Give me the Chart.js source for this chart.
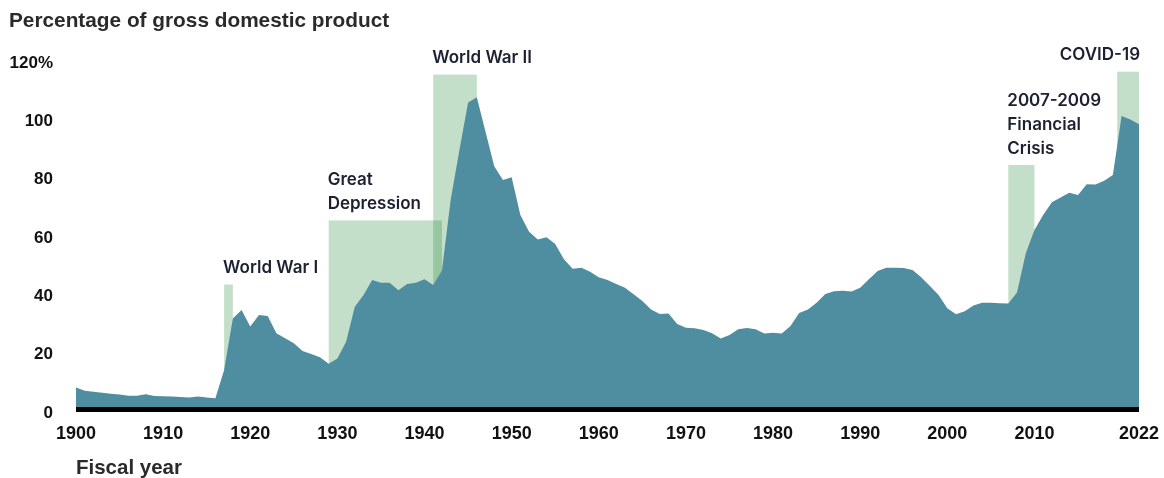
<!DOCTYPE html>
<html>
<head>
<meta charset="utf-8">
<script src="https://cdn.jsdelivr.net/npm/chart.js@4/dist/chart.umd.min.js"></script>
<style>
  html, body { margin: 0; padding: 0; background: #ffffff; }
  #wrap { width: 1164px; height: 478px; position: relative; }
</style>
</head>
<body>
<div id="wrap"><canvas id="c" width="1164" height="478"></canvas></div>
<script>
// ---------- data ----------
const years = [];
for (let y = 1900; y <= 2022; y++) years.push(y);

const debtPct = [
  7.7, 6.6, 6.3, 5.9, 5.6, 5.3, 4.9, 4.9, 5.4, 4.8,      // 1900-1909
  4.7, 4.6, 4.5, 4.3, 4.6, 4.3, 4.0, 13.7, 31.4, 34.3,   // 1910-1919
  28.6, 32.6, 32.2, 26.3, 24.6, 22.9, 20.2, 19.2, 18.1, 15.9, // 1920-1929
  17.7, 23.4, 35.4, 39.4, 44.6, 43.6, 43.6, 41.1, 43.2, 43.6, // 1930-1939
  44.8, 42.9, 47.8, 72.0, 89.1, 105.4, 107.2, 95.4, 83.6, 78.9, // 1940-1949
  79.8, 66.9, 61.1, 58.5, 59.2, 56.9, 51.7, 48.4, 48.8, 47.4, // 1950-1959
  45.5, 44.6, 43.2, 41.9, 39.7, 37.4, 34.5, 32.9, 33.1, 29.5, // 1960-1969
  28.2, 28.0, 27.4, 26.3, 24.5, 25.7, 27.7, 28.1, 27.7, 26.2, // 1970-1979
  26.5, 26.2, 28.8, 33.3, 34.5, 36.8, 39.8, 40.7, 40.9, 40.6, // 1980-1989
  41.9, 44.8, 47.7, 48.8, 48.8, 48.7, 48.0, 45.5, 42.5, 39.4, // 1990-1999
  34.9, 32.8, 33.9, 35.8, 36.8, 36.8, 36.6, 36.5, 40.3, 53.7, // 2000-2009
  61.7, 66.9, 71.2, 72.9, 74.5, 73.7, 77.4, 77.3, 78.6, 80.6, // 2010-2019
  100.8, 99.6, 98.0                                      // 2020-2022
];

const xTickValues = [1900, 1910, 1920, 1930, 1940, 1950, 1960, 1970, 1980, 1990, 2000, 2010, 2022];
const yTickValues = [0, 20, 40, 60, 80, 100, 120];

const eventNames  = [["World War I"], ["Great", "Depression"], ["World War II"], ["2007-2009", "Financial", "Crisis"], ["COVID-19"]];
const eventStart  = [1917, 1929, 1941, 2007, 2019.5];
const eventEnd    = [1918, 1942, 1946, 2010, 2022];
const eventHeight = [43, 65, 115, 84, 116];
const eventAlignRight = [false, false, false, false, true];

const titleText = "Percentage of gross domestic product";
const xTitleText = "Fiscal year";

// ---------- styling ----------
const AREA_COLOR = "rgb(79,141,160)";
const SHADE_COLOR = "rgba(14,128,40,0.25)";
const LABEL_COLOR = "#1d2030";
const AXIS_FONT = "'Liberation Sans', Arial, Helvetica, sans-serif";
const NOTE_FONT = "Inter, 'Noto Sans', sans-serif";

const points = years.map((y, i) => ({ x: y, y: debtPct[i] }));

const eventPlugin = {
  id: 'events',
  beforeDatasetsDraw(chart) {
    const { ctx, scales: { x, y } } = chart;
    ctx.save();
    ctx.fillStyle = SHADE_COLOR;
    for (let i = 0; i < eventStart.length; i++) {
      const x0 = x.getPixelForValue(eventStart[i]);
      const x1 = x.getPixelForValue(eventEnd[i]);
      const yt = y.getPixelForValue(eventHeight[i]);
      const yb = y.getPixelForValue(0);
      ctx.fillRect(x0, yt, x1 - x0, yb - yt);
    }
    ctx.restore();
  },
  afterDatasetsDraw(chart) {
    const { ctx, chartArea, scales: { y } } = chart;
    const y0 = y.getPixelForValue(0);
    ctx.save();
    ctx.fillStyle = "#000";
    ctx.fillRect(chartArea.left, y0 - 3, chartArea.right - chartArea.left, 5);
    ctx.restore();
  },
  afterDraw(chart) {
    const { ctx, scales: { x, y } } = chart;
    ctx.save();
    // annotation labels
    ctx.fillStyle = LABEL_COLOR;
    ctx.font = "600 17px " + NOTE_FONT;
    ctx.textBaseline = "alphabetic";
    const lineH = 24;
    for (let i = 0; i < eventNames.length; i++) {
      const lines = eventNames[i];
      const yt = y.getPixelForValue(eventHeight[i]);
      const lastBase = yt - 11.5;
      let xPos;
      if (eventAlignRight[i]) {
        ctx.textAlign = "right";
        xPos = x.getPixelForValue(eventEnd[i]) + 1;
      } else {
        ctx.textAlign = "left";
        xPos = x.getPixelForValue(eventStart[i]) - 1;
      }
      for (let k = 0; k < lines.length; k++) {
        const base = lastBase - (lines.length - 1 - k) * lineH;
        ctx.fillText(lines[k], xPos, base);
      }
    }
    // titles
    ctx.textAlign = "left";
    ctx.fillStyle = "#2a2a2a";
    ctx.font = "bold 20.8px " + AXIS_FONT;
    ctx.fillText(titleText, 9, 27);
    ctx.font = "bold 20.5px " + AXIS_FONT;
    ctx.fillText(xTitleText, 76, 474);
    ctx.restore();
  }
};

new Chart(document.getElementById('c'), {
  type: 'line',
  data: {
    datasets: [{
      data: points,
      fill: 'origin',
      backgroundColor: AREA_COLOR,
      borderColor: AREA_COLOR,
      borderWidth: 0,
      pointRadius: 0,
      tension: 0
    }]
  },
  options: {
    responsive: false,
    devicePixelRatio: 1,
    animation: false,
    events: [],
    layout: { padding: { top: 60, right: 25, left: 0, bottom: 0 } },
    plugins: { legend: { display: false }, tooltip: { enabled: false } },
    scales: {
      x: {
        type: 'linear',
        min: 1900,
        max: 2022,
        grid: { display: false, drawTicks: false },
        border: { display: false },
        afterBuildTicks(scale) { scale.ticks = xTickValues.map(v => ({ value: v })); },
        afterFit(scale) { scale.height = 68; scale.paddingLeft = 0; scale.paddingRight = 0; },
        ticks: {
          autoSkip: false,
          maxRotation: 0,
          padding: 13,
          color: "#111",
          font: { family: AXIS_FONT, size: 18, weight: 'bold' },
          callback: v => String(v)
        }
      },
      y: {
        min: 0,
        max: 120,
        grid: { display: false, drawTicks: false },
        border: { display: false },
        afterBuildTicks(scale) { scale.ticks = yTickValues.map(v => ({ value: v })); },
        afterFit(scale) { scale.width = 76; scale.paddingTop = 0; scale.paddingBottom = 0; },
        ticks: {
          padding: 23,
          labelOffset: 3,
          color: "#111",
          font: { family: AXIS_FONT, size: 17, weight: 'bold' },
          callback: v => (v === 120 ? '120%' : String(v))
        }
      }
    }
  },
  plugins: [eventPlugin]
});
</script>
</body>
</html>
